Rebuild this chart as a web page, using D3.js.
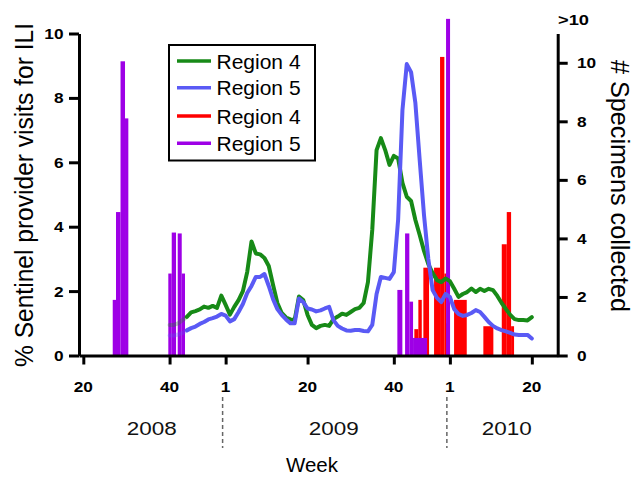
<!DOCTYPE html>
<html><head><meta charset="utf-8">
<script src="https://cdn.jsdelivr.net/npm/d3@7"></script>
<style>
body{margin:0;background:#fff}
svg{display:block}
text{font-family:"Liberation Sans",Arial,Helvetica,sans-serif;fill:#000}
</style>
</head><body>
<svg id="chart" width="634" height="477"></svg>
<script>
// ---- data ----
// x = weeks counted from 2008 week 20 (0) ; 2009 week 1 = 33 ; 2010 week 1 = 85
const weekTickIndex = [0, 20, 33, 52, 72, 85, 104];
const weekTickLabels = ["20", "40", "1", "20", "40", "1", "20"];
const yearNames = ["2008", "2009", "2010"];
const yearCenters = [15.9, 58.1, 98.2];
const yearBoundaries = [32.3, 84.3];
const leftTicks = [0, 2, 4, 6, 8, 10];
const rightTicks = [0, 2, 4, 6, 8, 10];
const rightTopLabel = ">10";

const iliFirstWeek = 20; // first week index of the ILI series
const fadedUntil = 24;   // faded start of ILI series
const iliRegion4 = [0.95,0.95,1.0,1.1,1.2,1.34,1.38,1.43,1.52,1.48,1.54,1.48,1.86,1.57,1.27,1.51,1.72,2.0,2.59,3.54,
  3.17,3.14,3.03,2.78,2.19,1.63,1.32,1.18,1.12,1.1,1.83,1.72,1.26,0.95,0.85,0.92,0.95,0.92,1.13,1.21,
  1.30,1.26,1.35,1.44,1.48,1.63,2.28,3.90,6.38,6.75,6.38,5.92,6.20,6.12,5.36,4.93,4.80,4.21,3.74,3.25,
  2.84,2.56,2.34,2.28,2.39,2.31,2.07,1.82,1.91,1.97,2.08,1.97,2.07,2.0,2.07,2.03,1.85,1.63,1.44,1.26,
  1.13,1.10,1.10,1.09,1.19];
const iliRegion5 = [0.62,0.62,0.65,0.70,0.78,0.85,0.90,0.98,1.04,1.12,1.16,1.21,1.29,1.24,1.06,1.13,1.35,1.60,1.94,2.16,
  2.44,2.44,2.53,2.16,1.75,1.44,1.26,1.12,1.0,1.0,1.77,1.66,1.46,1.43,1.37,1.40,1.46,1.51,1.10,0.92,
  0.84,0.78,0.77,0.79,0.79,0.76,0.75,0.95,1.91,2.44,2.41,2.38,2.59,4.22,7.62,9.05,8.80,7.84,6.07,4.36,
  3.0,2.03,1.79,1.66,1.91,1.82,1.44,1.29,1.23,1.26,1.32,1.41,1.35,1.20,1.04,0.92,0.84,0.79,0.75,0.70,
  0.65,0.64,0.64,0.64,0.53];

// specimens collected (right axis): start week, end week, count
const specR4Start = [76.76, 77.69, 78.85, 81.33, 82.72, 83.72, 84.11, 85.97, 92.76, 97.03, 98.19, 99.19];
const specR4End   = [77.69, 78.48, 80.17, 82.72, 83.72, 84.11, 84.88, 88.91, 95.08, 98.19, 99.19, 99.88];
const specR4Count = [0.9, 1.9, 3.0, 3.0, 10.2, 2.8, 1.1, 1.9, 1.0, 3.8, 4.9, 1.0];

const specR5Start = [6.82, 7.58, 8.63, 9.67, 19.71, 20.50, 21.89, 22.82, 72.82, 74.61, 75.60, 76.46, 84.11];
const specR5End   = [7.58, 8.63, 9.67, 10.44, 20.50, 21.50, 22.82, 23.58, 73.98, 75.60, 76.46, 79.71, 85.04];
const specR5Count = [1.9, 4.9, 10.05, 8.1, 2.8, 4.2, 4.17, 2.8, 2.24, 4.17, 1.84, 0.6, 11.5];

const legendLabels = ["Region 4", "Region 5", "Region 4", "Region 5"];

// ---- styles ----
const cGreen = "#178a17", cBlue = "#5a5af5", cRed = "#ff0000", cPurple = "#9e00e6";

const svg = d3.select("#chart");
const x = d3.scaleLinear().domain([-1, 110]).range([79, 557.7]);
const yL = d3.scaleLinear().domain([0, 10]).range([355.5, 33.5]);
const yR = d3.scaleLinear().domain([0, 11]).range([355.5, 33.5]);

// bars
function bars(starts, ends, counts, color) {
  const data = starts.map((s, i) => ({s, e: ends[i], v: counts[i]}));
  svg.append("g").selectAll("rect").data(data).join("rect")
    .attr("x", d => x(d.s))
    .attr("width", d => x(d.e) - x(d.s))
    .attr("y", d => yR(d.v))
    .attr("height", d => yR(0) - yR(d.v))
    .attr("fill", color);
}
bars(specR4Start, specR4End, specR4Count, cRed);
bars(specR5Start, specR5End, specR5Count, cPurple);

// lines
function iliLine(vals, color) {
  const pts = vals.map((v, i) => ({w: iliFirstWeek + i, v}));
  const line = d3.line().x(d => x(d.w)).y(d => yL(d.v));
  svg.append("path").datum(pts.filter(d => d.w <= fadedUntil))
    .attr("d", line).attr("fill", "none").attr("stroke", color)
    .attr("stroke-width", 4).attr("stroke-linejoin", "round").attr("stroke-linecap", "round")
    .attr("opacity", 0.3);
  svg.append("path").datum(pts.filter(d => d.w >= fadedUntil))
    .attr("d", line).attr("fill", "none").attr("stroke", color)
    .attr("stroke-width", 4).attr("stroke-linejoin", "round").attr("stroke-linecap", "round");
}
iliLine(iliRegion4, cGreen);
iliLine(iliRegion5, cBlue);

// axes (lines from d3 axes, labels drawn separately)
function styleAxis(g) {
  g.select(".domain").attr("stroke", "#000").attr("stroke-width", 3);
  g.selectAll(".tick line").attr("stroke", "#000").attr("stroke-width", 3);
  g.selectAll(".tick text").remove();
}
svg.append("g").attr("transform", `translate(79,0)`)
  .call(d3.axisLeft(yL).tickValues(leftTicks).tickSize(10).tickSizeOuter(0))
  .call(styleAxis);
svg.append("g").attr("transform", `translate(557.7,0)`)
  .call(d3.axisRight(yR).tickValues(rightTicks).tickSize(10).tickSizeOuter(0))
  .call(styleAxis);
svg.append("g").attr("transform", `translate(0,355.5)`)
  .call(d3.axisBottom(x).tickValues(weekTickIndex).tickSize(9).tickSizeOuter(0))
  .call(styleAxis);

const tickFont = 15, tickStretch = 1.15;
svg.append("g").selectAll("text").data(leftTicks).join("text")
  .attr("transform", d => `translate(63.5,${yL(d) + 5.5}) scale(${tickStretch},1)`)
  .attr("text-anchor", "end").attr("font-size", tickFont).attr("font-weight", "bold")
  .text(d => d);
svg.append("g").selectAll("text").data(rightTicks).join("text")
  .attr("transform", d => `translate(577,${yR(d) + 5.5}) scale(${tickStretch},1)`)
  .attr("font-size", tickFont).attr("font-weight", "bold")
  .text(d => d);
svg.append("g").selectAll("text").data(weekTickIndex).join("text")
  .attr("transform", d => `translate(${x(d)},391.5) scale(${tickStretch},1)`)
  .attr("text-anchor", "middle").attr("font-size", tickFont).attr("font-weight", "bold")
  .text((d, i) => weekTickLabels[i]);
svg.append("text").attr("transform", `translate(558,25) scale(1.22,1)`)
  .attr("font-size", tickFont).attr("font-weight", "bold").text(rightTopLabel);

// year labels and separators
svg.append("g").selectAll("text").data(yearNames).join("text")
  .attr("x", (d, i) => x(yearCenters[i])).attr("y", 435)
  .attr("text-anchor", "middle").attr("font-size", 19)
  .attr("textLength", 50).attr("lengthAdjust", "spacingAndGlyphs")
  .style("fill", "#111").text(d => d);
svg.append("g").selectAll("line").data(yearBoundaries).join("line")
  .attr("x1", d => x(d)).attr("x2", d => x(d)).attr("y1", 397).attr("y2", 448)
  .attr("stroke", "#666").attr("stroke-width", 1.5).attr("stroke-dasharray", "4,3");

svg.append("text").attr("x", 312).attr("y", 472).attr("text-anchor", "middle")
  .attr("font-size", 20.5).text("Week");

svg.append("text").attr("transform", "translate(32.5,195) rotate(-90)").attr("text-anchor", "middle")
  .attr("font-size", 25).attr("textLength", 344).attr("lengthAdjust", "spacingAndGlyphs")
  .text("% Sentinel provider visits for ILI");
svg.append("text").attr("transform", "translate(611,186) rotate(90)").attr("text-anchor", "middle")
  .attr("font-size", 25).attr("textLength", 252).attr("lengthAdjust", "spacingAndGlyphs")
  .text("# Specimens collected");

// legend
const lg = svg.append("g");
lg.append("rect").attr("x", 169).attr("y", 45).attr("width", 146).attr("height", 115.5)
  .attr("fill", "#fff").attr("stroke", "#000").attr("stroke-width", 2);
const legendColors = [cGreen, cBlue, cRed, cPurple];
const legendY = [61, 87.7, 116, 143.3];
legendLabels.forEach((t, i) => {
  lg.append("line").attr("x1", 177).attr("x2", 211).attr("y1", legendY[i]).attr("y2", legendY[i])
    .attr("stroke", legendColors[i]).attr("stroke-width", 3.5);
  lg.append("text").attr("x", 216.5).attr("y", legendY[i] + 7.5).attr("font-size", 21).text(t);
});
</script>
</body></html>
